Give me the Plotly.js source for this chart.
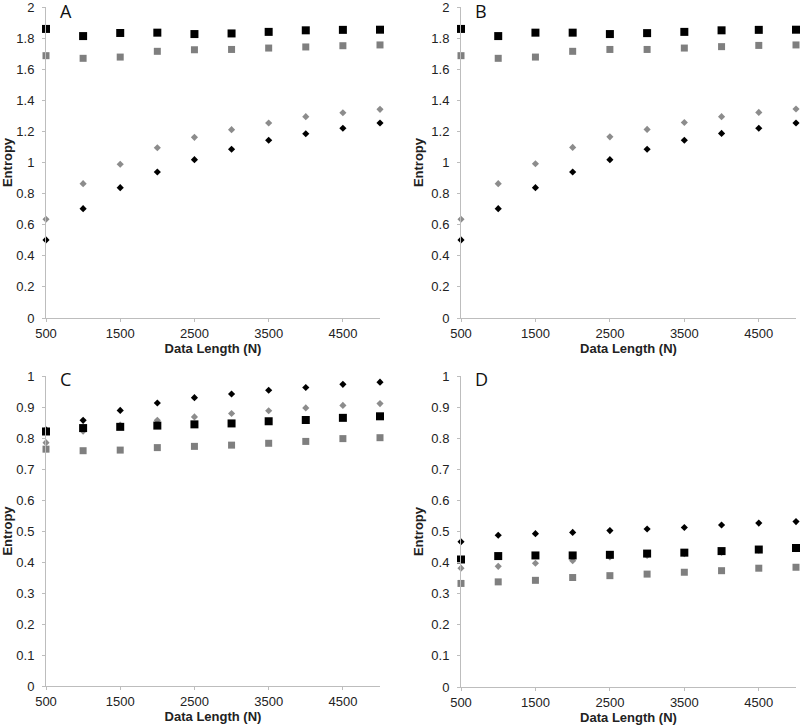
<!DOCTYPE html>
<html>
<head>
<meta charset="utf-8">
<script src="https://cdn.plot.ly/plotly-3.0.1.min.js"></script>
<style>
  html, body { margin: 0; padding: 0; background: #fff; }
  #chart { width: 800px; height: 727px; }
</style>
</head>
<body>
<div id="chart"></div>
<script>
// Longitud de datos (eje x), compartida por los cuatro paneles
const dataLength = [500, 1000, 1500, 2000, 2500, 3000, 3500, 4000, 4500, 5000];

// Panel A
const aBlackSq = [1.859, 1.813, 1.833, 1.835, 1.826, 1.830, 1.840, 1.850, 1.853, 1.854];
const aGraySq  = [1.687, 1.670, 1.678, 1.715, 1.725, 1.727, 1.736, 1.743, 1.751, 1.756];
const aBlackDm = [0.502, 0.703, 0.838, 0.939, 1.018, 1.085, 1.143, 1.185, 1.220, 1.254];
const aGrayDm  = [0.635, 0.864, 0.989, 1.095, 1.162, 1.211, 1.254, 1.295, 1.320, 1.342];

// Panel B
const bBlackSq = [1.859, 1.813, 1.835, 1.835, 1.826, 1.832, 1.840, 1.850, 1.853, 1.854];
const bGraySq  = [1.687, 1.670, 1.678, 1.715, 1.727, 1.727, 1.736, 1.745, 1.753, 1.756];
const bBlackDm = [0.502, 0.703, 0.838, 0.939, 1.018, 1.085, 1.143, 1.187, 1.220, 1.254];
const bGrayDm  = [0.635, 0.864, 0.992, 1.097, 1.165, 1.213, 1.257, 1.295, 1.322, 1.344];

// Panel C
const cBlackSq = [0.821, 0.832, 0.836, 0.840, 0.844, 0.847, 0.854, 0.858, 0.865, 0.870];
const cGraySq  = [0.764, 0.759, 0.761, 0.769, 0.773, 0.777, 0.783, 0.789, 0.798, 0.801];
const cBlackDm = [0.826, 0.857, 0.889, 0.913, 0.930, 0.942, 0.954, 0.963, 0.973, 0.980];
const cGrayDm  = [0.785, 0.822, 0.842, 0.857, 0.868, 0.879, 0.888, 0.897, 0.905, 0.911];

// Panel D
const dBlackSq = [0.410, 0.421, 0.423, 0.423, 0.425, 0.429, 0.432, 0.437, 0.442, 0.447];
const dGraySq  = [0.333, 0.338, 0.343, 0.352, 0.358, 0.363, 0.369, 0.374, 0.382, 0.385];
const dBlackDm = [0.467, 0.488, 0.493, 0.497, 0.503, 0.508, 0.513, 0.521, 0.527, 0.532];
const dGrayDm  = [0.382, 0.388, 0.398, 0.406, 0.418, 0.423, 0.429, 0.433, 0.440, 0.445];

const panelLetters = ['A', 'B', 'C', 'D'];

const negro = '#000000';
const gris = '#7f7f7f';
const grisClaro = '#8c8c8c';

// --- Trazas ---
function serie(y, ax, simbolo, color, tam) {
    return {
        x: dataLength,
        y: y,
        xaxis: 'x' + ax,
        yaxis: 'y' + ax,
        type: 'scatter',
        mode: 'markers',
        cliponaxis: false,
        showlegend: false,
        hoverinfo: 'x+y',
        marker: {symbol: simbolo, color: color, size: tam, line: {width: 0}}
    };
}

const paneles = [
    [aBlackSq, aGraySq, aBlackDm, aGrayDm],
    [bBlackSq, bGraySq, bBlackDm, bGrayDm],
    [cBlackSq, cGraySq, cBlackDm, cGrayDm],
    [dBlackSq, dGraySq, dBlackDm, dGrayDm]
];

const data = [];
paneles.forEach((p, i) => {
    const ax = i === 0 ? '' : String(i + 1);
    data.push(serie(p[1], ax, 'square', gris, 7));
    data.push(serie(p[3], ax, 'diamond', grisClaro, 5.5));
    data.push(serie(p[0], ax, 'square', negro, 8));
    data.push(serie(p[2], ax, 'diamond', negro, 5.5));
});

// --- Ejes ---
const W = 800, H = 727;
const fuente = 'Liberation Sans, Arial, sans-serif';

function ejeX(x0, x1, ancla) {
    return {
        domain: [x0 / W, x1 / W],
        anchor: ancla,
        range: [500, 5000],
        tick0: 500,
        dtick: 1000,
        showgrid: false,
        zeroline: false,
        showline: true,
        linecolor: '#bdbdbd',
        linewidth: 1,
        ticks: 'outside',
        ticklen: 3,
        tickcolor: '#bdbdbd',
        ticklabeloverflow: 'allow',
        tickfont: {family: fuente, size: 13, color: '#222'},
        title: {text: 'Data Length (N)', standoff: 3,
                font: {family: fuente, size: 13, color: '#222', weight: 'bold'}}
    };
}

function ejeY(top, bottom, ancla, maximo, paso) {
    return {
        domain: [1 - bottom / H, 1 - top / H],
        anchor: ancla,
        range: [0, maximo],
        dtick: paso,
        showgrid: false,
        zeroline: false,
        showline: true,
        linecolor: '#bdbdbd',
        linewidth: 1,
        ticks: 'outside',
        ticklen: 3,
        tickcolor: '#bdbdbd',
        ticklabelstandoff: 5,
        ticklabeloverflow: 'allow',
        tickfont: {family: fuente, size: 13, color: '#222'},
        title: {text: 'Entropy', standoff: 4,
                font: {family: fuente, size: 13, color: '#222', weight: 'bold'}}
    };
}

const layout = {
    width: W,
    height: H,
    margin: {l: 0, r: 0, t: 0, b: 0},
    paper_bgcolor: '#fff',
    plot_bgcolor: '#fff',
    xaxis: ejeX(46, 380, 'y'),
    yaxis: ejeY(7, 318, 'x', 2, 0.2),
    xaxis2: ejeX(461, 796, 'y2'),
    yaxis2: ejeY(7, 318, 'x2', 2, 0.2),
    xaxis3: ejeX(46, 380, 'y3'),
    yaxis3: ejeY(376, 686, 'x3', 1, 0.1),
    xaxis4: ejeX(461, 796, 'y4'),
    yaxis4: ejeY(376, 687, 'x4', 1, 0.1),
    annotations: panelLetters.map((letra, i) => ({
        text: letra,
        xref: 'paper',
        yref: 'paper',
        x: (i % 2 === 0 ? 58 : 473) / W,
        y: 1 - (i < 2 ? -3 : 365) / H,
        xanchor: 'left',
        yanchor: 'top',
        showarrow: false,
        font: {family: 'Open Sans, sans-serif', size: 18, color: '#111'}
    }))
};

Plotly.newPlot('chart', data, layout, {displayModeBar: false, staticPlot: true});
</script>
</body>
</html>
